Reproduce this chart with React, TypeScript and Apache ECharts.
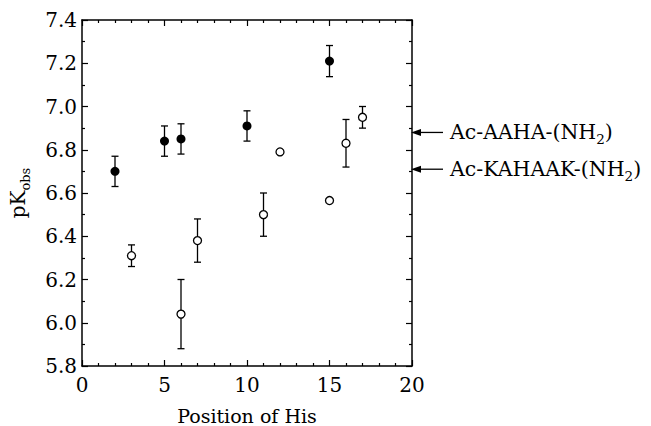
import React, { useEffect, useRef } from "react";
import * as echarts from "echarts";

const filledX = [2, 5, 6, 10, 15];
const filledY = [6.7, 6.84, 6.85, 6.91, 7.21];
const filledErr = [0.07, 0.07, 0.07, 0.07, 0.072];

const openX = [3, 6, 7, 11, 12, 15, 16, 17];
const openY = [6.31, 6.04, 6.38, 6.5, 6.79, 6.565, 6.83, 6.95];
const openErr = [0.05, 0.16, 0.1, 0.1, 0, 0, 0.11, 0.05];

const annotationLabels = ["Ac-AAHA-(NH_2)", "Ac-KAHAAK-(NH_2)"];
const annotationValues = [6.88, 6.71];

const xTitle = "Position of His";
const FONT = "DejaVu Serif";

function toRich(s: string) {
  const parts = s.split("_");
  return `{a|${parts[0]}}{b|${parts[1][0]}}{a|${parts[1].slice(1)}}`;
}

export default function App() {
  const ref = useRef<HTMLDivElement>(null);
  useEffect(() => {
    if (!ref.current) return;
    const chart = echarts.init(ref.current, null, { renderer: "svg" });
    const axisCommon = {
      type: "value" as const,
      axisLine: { show: true, onZero: false, lineStyle: { color: "#000", width: 1.5 } },
      axisTick: { show: true, inside: true, length: 6, lineStyle: { color: "#000", width: 1.2 } },
      minorTick: { show: true, length: 3, lineStyle: { color: "#000", width: 1.2 } },
      splitLine: { show: false },
      minorSplitLine: { show: false },
    };
    const errData = (xs: number[], ys: number[], es: number[]) =>
      xs.map((x, i) => [x, ys[i], es[i]]);
    const renderErr = (params: any, api: any) => {
      const x = api.value(0);
      const y = api.value(1);
      const e = api.value(2);
      if (!e) return { type: "group", children: [] };
      const top = api.coord([x, y + e]);
      const bot = api.coord([x, y - e]);
      const hw = 3.5;
      const style = { stroke: "#000", lineWidth: 1.3 };
      return {
        type: "group",
        children: [
          { type: "line", shape: { x1: top[0], y1: top[1], x2: bot[0], y2: bot[1] }, style },
          { type: "line", shape: { x1: top[0] - hw, y1: top[1], x2: top[0] + hw, y2: top[1] }, style },
          { type: "line", shape: { x1: bot[0] - hw, y1: bot[1], x2: bot[0] + hw, y2: bot[1] }, style },
        ],
      };
    };
    chart.setOption({
      animation: false,
      textStyle: { fontFamily: FONT, color: "#000" },
      grid: { left: 82, top: 20, width: 330, height: 346, containLabel: false, outerBoundsMode: "none" },
      xAxis: [
        {
          ...axisCommon,
          position: "bottom",
          min: 0,
          max: 20,
          interval: 5,
          minorTick: { ...axisCommon.minorTick, splitNumber: 5 },
          axisLabel: { fontFamily: FONT, fontSize: 20, color: "#000", margin: 9 },
          name: xTitle,
          nameLocation: "middle",
          nameGap: 40,
          nameTextStyle: { fontFamily: FONT, fontSize: 19, color: "#000", lineHeight: 20 },
        },
        {
          ...axisCommon,
          position: "top",
          min: 0,
          max: 20,
          interval: 5,
          minorTick: { ...axisCommon.minorTick, splitNumber: 5 },
          axisLabel: { show: false },
        },
      ],
      yAxis: [
        {
          ...axisCommon,
          position: "left",
          min: 5.8,
          max: 7.4,
          interval: 0.2,
          minorTick: { ...axisCommon.minorTick, splitNumber: 2 },
          axisLabel: {
            fontFamily: FONT,
            fontSize: 20,
            color: "#000",
            margin: 5,
            formatter: (v: number) => v.toFixed(1),
          },
          name: "{a|pK}{b|obs}",
          nameLocation: "middle",
          nameRotate: 90,
          nameGap: 50,
          nameTextStyle: {
            color: "#000000",
            fontFamily: FONT,
            rich: {
              a: { fontFamily: FONT, fontSize: 20, color: "#000000", lineHeight: 28, verticalAlign: "middle" },
              b: { fontFamily: FONT, fontSize: 13, color: "#000000", lineHeight: 28, verticalAlign: "bottom" },
            },
          },
        },
        {
          ...axisCommon,
          position: "right",
          min: 5.8,
          max: 7.4,
          interval: 0.2,
          minorTick: { ...axisCommon.minorTick, splitNumber: 2 },
          axisLabel: { show: false },
        },
      ],
      series: [
        {
          type: "custom",
          renderItem: renderErr,
          data: errData(filledX, filledY, filledErr),
          z: 2,
          silent: true,
        },
        {
          type: "custom",
          renderItem: renderErr,
          data: errData(openX, openY, openErr),
          z: 2,
          silent: true,
        },
        {
          type: "scatter",
          data: filledX.map((x, i) => [x, filledY[i]]),
          symbol: "circle",
          symbolSize: 9,
          itemStyle: { color: "#000", opacity: 1 },
          z: 5,
        },
        {
          type: "scatter",
          data: openX.map((x, i) => [x, openY[i]]),
          symbol: "circle",
          symbolSize: 8,
          itemStyle: { color: "#fff", borderColor: "#000", borderWidth: 1.3, opacity: 1 },
          z: 5,
        },
      ],
    });

    const xRight = chart.convertToPixel({ xAxisIndex: 0 }, 20) as number;
    const graphics: any[] = [];
    annotationValues.forEach((v, i) => {
      const y = chart.convertToPixel({ yAxisIndex: 0 }, v) as number;
      const tip = xRight - 1;
      graphics.push(
        {
          type: "line",
          shape: { x1: tip + 6, y1: y, x2: tip + 32, y2: y },
          style: { stroke: "#000", lineWidth: 1.3 },
        },
        {
          type: "polygon",
          shape: { points: [[tip, y], [tip + 10, y - 3.5], [tip + 10, y + 3.5]] },
          style: { fill: "#000" },
        },
        {
          type: "text",
          x: tip + 39,
          y: y,
          style: {
            text: toRich(annotationLabels[i]),
            verticalAlign: "middle",
            align: "left",
            rich: {
              a: { fontFamily: FONT, fontSize: 20.5, fill: "#000", lineHeight: 28, verticalAlign: "middle" },
              b: { fontFamily: FONT, fontSize: 13.5, fill: "#000", lineHeight: 28, verticalAlign: "bottom" },
            },
          },
        }
      );
    });
    chart.setOption({ graphic: graphics });

    return () => chart.dispose();
  }, []);
  return (
    <div
      ref={ref}
      style={{ position: "fixed", left: 0, top: 0, width: 651, height: 426, background: "#fff" }}
    />
  );
}
